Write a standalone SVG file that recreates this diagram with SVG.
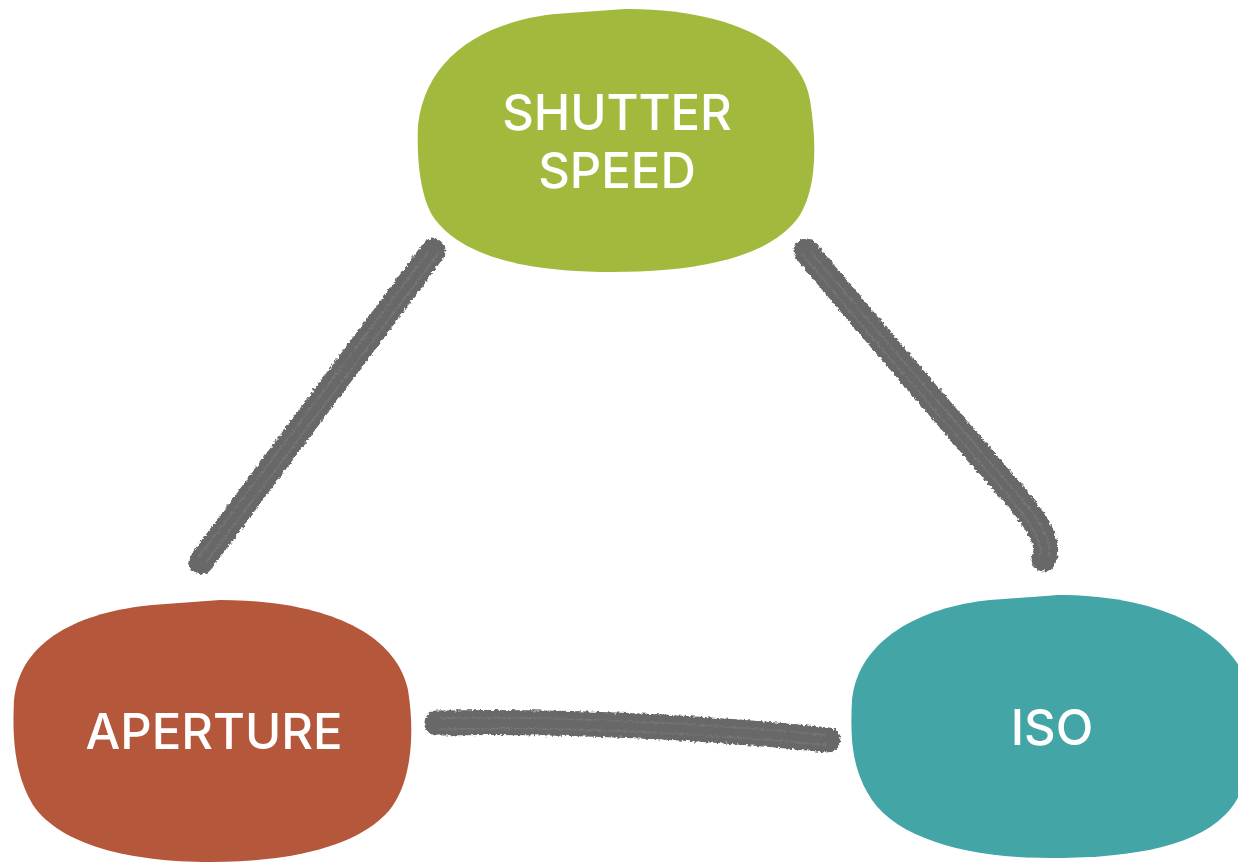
<svg xmlns="http://www.w3.org/2000/svg" width="1238" height="863" viewBox="0 0 1238 863">
<style>
.lbl{font-family:Inter,"Liberation Sans",sans-serif;font-size:49px;fill:#ffffff;text-anchor:middle;font-weight:500}
.brush{fill:none;stroke:#686868;stroke-width:25;stroke-linecap:round;stroke-linejoin:round}
.streak{fill:none;stroke:#7b7b7b;stroke-width:1.5;stroke-linecap:round;opacity:0.7}
</style>
<defs>
<filter id="rough" x="-10%" y="-10%" width="120%" height="120%">
<feTurbulence type="fractalNoise" baseFrequency="0.35" numOctaves="2" seed="3" result="n"/>
<feDisplacementMap in="SourceGraphic" in2="n" scale="5" xChannelSelector="R" yChannelSelector="G"/>
</filter>
</defs>
<rect width="1238" height="863" fill="#ffffff"/>
<g id="connectors" filter="url(#rough)">
<path class="brush" d="M 433,251 C 360,350 280,455 201,562"/>
<path class="streak" d="M 428,252 C 355,350 275,455 198,558"/>
<path class="streak" d="M 438,254 C 365,352 285,458 206,562"/>
<path class="brush" d="M 806,251 C 880,340 950,420 1015,496 C 1040,525 1050,545 1044,559"/>
<path class="streak" d="M 802,254 C 876,343 946,423 1011,499 C 1034,526 1043,544 1040,556"/>
<path class="streak" d="M 811,252 C 885,341 955,421 1020,497 C 1043,524 1052,542 1049,555"/>
<path class="brush" d="M 437,723 C 560,721 700,727 828,740"/>
<path class="streak" d="M 440,718 C 560,717 700,723 826,735"/>
<path class="streak" d="M 440,729 C 560,727 700,733 826,745"/>
</g>
<g id="node-shutter">
<path d="M 555,14 L 625,9 C 720,8 800,40 810,100 C 818,150 815,190 800,215 C 770,260 690,272 612,272 C 530,272 460,258 432,215 C 418,190 417,150 418,125 C 425,60 480,22 555,14 Z" fill="#A1BA3E"/>
<text class="lbl" x="617" y="130">SHUTTER</text>
<text class="lbl" x="617" y="188">SPEED</text>
</g>
<g id="node-aperture">
<path d="M 152,605 L 220,600 C 320,600 395,630 408,690 C 416,740 410,790 385,815 C 350,850 280,862 210,862 C 130,862 60,845 33,805 C 15,775 12,740 14,700 C 20,640 80,612 152,605 Z" fill="#B4573A"/>
<text class="lbl" x="214" y="749">APERTURE</text>
</g>
<g id="node-iso">
<path d="M 990,600 L 1058,595 C 1150,595 1230,625 1250,690 C 1262,740 1250,790 1225,815 C 1190,850 1120,858 1050,858 C 970,858 900,840 872,800 C 852,770 850,740 852,700 C 858,640 920,607 990,600 Z" fill="#44A5A6"/>
<text class="lbl" x="1052" y="745">ISO</text>
</g>
</svg>
